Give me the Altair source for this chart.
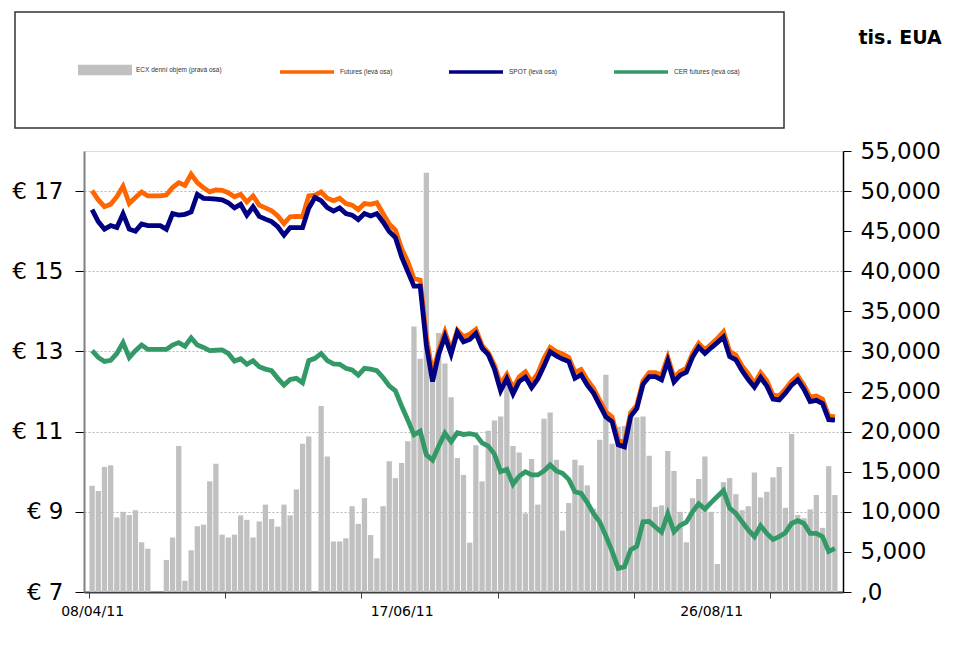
import altair as alt
import pandas as pd

# ---- category axis (trading days) ----
tick_idx = [0, 22, 44, 66, 88, 110]
label_idx = [0, 50, 100]
label_txt = ["08/04/11", "17/06/11", "26/08/11"]

SERIES = ["ECX denní objem (pravá osa)", "Futures (levá osa)", "SPOT (levá osa)", "CER futures (levá osa)"]
COLORS = ["#c0c0c0", "#ff6600", "#000080", "#339966"]

left_ticks = [7, 9, 11, 13, 15, 17]
right_ticks = [0, 5000, 10000, 15000, 20000, 25000, 30000, 35000, 40000, 45000, 50000, 55000]

# ---- ECX daily volume (right axis, tis. EUA) ----
volume = [
    13250, 12600, 15600, 15800, 9300, 10000, 9600, 10200, 6200, 5400,
    None, None, 4000, 6800, 18200, 1400, 5200, 8200, 8400, 13800,
    16000, 7150, 6800, 7150, 9560, 9000, 6800, 8800, 10900, 9100,
    8150, 10900, 9560, 12800, 18500, 19400, None, 23200, 16900, 6300,
    6300, 6700, 10700, 8500, 11700, 7100, 4200, 10700, 16300, 14200,
    16100, 18800, 33100, 29100, 52300, 26500, 32300, 28500, 24300, 16700,
    14600, 6150, 18300, 13800, 20100, 21400, 21900, 26400, 18200, 17400,
    9800, 16600, 10900, 21600, 22400, 16500, 7650, 11100, 16500, 15800,
    13300, 10400, 19000, 27100, 18500, 20600, 20700, 22500, 21800, 21900,
    17000, 10600, 10800, 17600, 15100, 10000, 6200, 11700, 14100, 16900,
    10000, 3500, 13700, 14200, 12200, 10200, 10700, 14900, 11800, 12500,
    14300, 15600, 10500, 19700, 9600, 9200, 10300, 12100, 8000, 15700,
    12100,
]

# ---- prices (left axis, EUR) ----
futures = [
    17.01, 16.78, 16.61, 16.67, 16.86, 17.12, 16.69, 16.84, 16.98, 16.88,
    16.88, 16.88, 16.90, 17.09, 17.21, 17.14, 17.42, 17.21, 17.08, 16.98,
    17.03, 17.02, 16.96, 16.86, 16.92, 16.73, 16.88, 16.65, 16.58, 16.51,
    16.38, 16.19, 16.36, 16.37, 16.36, 16.88, 16.90, 16.98, 16.82, 16.76,
    16.82, 16.69, 16.65, 16.54, 16.69, 16.67, 16.71, 16.44, 16.18, 16.03,
    15.57, 15.24, 14.82, 14.78, 13.37, 12.45, 13.03, 13.49, 13.03, 13.53,
    13.37, 13.43, 13.55, 13.15, 12.97, 12.66, 12.18, 12.43, 12.08, 12.37,
    12.49, 12.24, 12.45, 12.83, 13.10, 13.00, 12.94, 12.85, 12.48, 12.55,
    12.29, 12.08, 11.78, 11.49, 11.37, 10.79, 10.72, 11.47, 11.66, 12.27,
    12.47, 12.47, 12.41, 12.86, 12.35, 12.50, 12.58, 12.95, 13.20, 13.04,
    13.18, 13.32, 13.49, 13.00, 12.91, 12.64, 12.44, 12.20, 12.47, 12.27,
    11.91, 11.89, 12.06, 12.26, 12.39, 12.16, 11.86, 11.89, 11.81, 11.39,
    11.37,
]
spot = [
    16.54, 16.24, 16.05, 16.14, 16.09, 16.43, 16.05, 16.00, 16.18, 16.14,
    16.14, 16.14, 16.05, 16.44, 16.40, 16.42, 16.48, 16.92, 16.82, 16.81,
    16.80, 16.78, 16.71, 16.58, 16.67, 16.40, 16.61, 16.37, 16.30, 16.24,
    16.11, 15.90, 16.09, 16.09, 16.09, 16.57, 16.84, 16.76, 16.59, 16.50,
    16.58, 16.44, 16.40, 16.29, 16.44, 16.38, 16.44, 16.23, 15.99, 15.84,
    15.36, 14.99, 14.63, 14.63, 13.16, 12.25, 12.94, 13.38, 12.93, 13.48,
    13.24, 13.30, 13.45, 13.08, 12.92, 12.56, 12.02, 12.32, 11.94, 12.25,
    12.36, 12.10, 12.31, 12.64, 12.99, 12.89, 12.81, 12.75, 12.33, 12.42,
    12.16, 11.96, 11.66, 11.37, 11.25, 10.67, 10.62, 11.38, 11.58, 12.18,
    12.37, 12.37, 12.29, 12.76, 12.24, 12.41, 12.48, 12.86, 13.11, 12.95,
    13.09, 13.22, 13.36, 12.87, 12.79, 12.52, 12.30, 12.11, 12.35, 12.14,
    11.81, 11.79, 11.96, 12.16, 12.29, 12.06, 11.75, 11.78, 11.70, 11.30,
    11.29,
]
cer = [
    13.02, 12.85, 12.75, 12.78, 12.95, 13.22, 12.85, 13.02, 13.16, 13.05,
    13.05, 13.05, 13.05, 13.16, 13.22, 13.13, 13.34, 13.16, 13.10, 13.02,
    13.03, 13.04, 12.95, 12.76, 12.82, 12.68, 12.77, 12.62, 12.56, 12.52,
    12.33, 12.16, 12.30, 12.33, 12.22, 12.77, 12.83, 12.95, 12.77, 12.69,
    12.68, 12.58, 12.54, 12.41, 12.58, 12.56, 12.52, 12.35, 12.14, 12.02,
    11.64, 11.29, 10.92, 11.01, 10.42, 10.29, 10.64, 10.96, 10.75, 10.97,
    10.93, 10.95, 10.92, 10.72, 10.64, 10.44, 10.00, 10.06, 9.69, 9.89,
    10.00, 9.92, 9.92, 10.02, 10.17, 10.02, 9.96, 9.81, 9.50, 9.46,
    9.23, 8.96, 8.75, 8.40, 8.02, 7.59, 7.63, 8.05, 8.14, 8.75,
    8.76, 8.62, 8.49, 8.95, 8.50, 8.66, 8.74, 9.00, 9.20, 9.07,
    9.23, 9.38, 9.53, 9.09, 8.96, 8.75, 8.55, 8.38, 8.65, 8.46,
    8.31, 8.38, 8.48, 8.71, 8.78, 8.71, 8.46, 8.46, 8.38, 8.01,
    8.09,
]

n = len(spot)
pos = [i + 0.5 for i in range(n)]

bars_df = pd.DataFrame({"pos": pos, "volume": volume, "name": [SERIES[0]] * n})
lines_df = pd.DataFrame({
    "pos": pos * 3,
    "value": futures + spot + cer,
    "series": [SERIES[1]] * n + [SERIES[2]] * n + [SERIES[3]] * n,
})

FONT = "DejaVu Sans"

label_vals = [i + 0.5 for i in label_idx]
label_expr = ""
for v, t in zip(label_vals, label_txt):
    label_expr += f"datum.value === {v} ? '{t}' : "
label_expr += "''"

x_axis = alt.Axis(
    values=sorted(tick_idx + label_vals),
    labelExpr=label_expr,
    tickOpacity={"condition": {"test": "datum.value % 1 === 0", "value": 1}, "value": 0},
    tickSize=6, tickColor="#404040", domainColor="#404040", domainWidth=2,
    labelFont=FONT, labelFontSize=14, labelColor="#000", labelPadding=6,
    labelOverlap=False, labelFlush=False, labelBound=False, grid=False, title=None,
)
x_enc = alt.X("pos:Q", scale=alt.Scale(domain=[0, n], nice=False, zero=False), axis=x_axis)

LEG_FONT = "Liberation Sans"
bar_legend = alt.Legend(
    orient="none", legendX=-6, legendY=-108, title=None,
    symbolType="M-1,-0.19H1V0.19H-1Z", symbolSize=2916, symbolStrokeWidth=0,
    symbolOffset=0, labelOffset=4, padding=0,
    labelFont=LEG_FONT, labelFontSize=6.5, labelColor="#333",
)
line_legend = alt.Legend(
    orient="none", legendX=194, legendY=-108, direction="horizontal", title=None,
    symbolType="stroke", symbolSize=2916, symbolStrokeWidth=3.5, symbolOffset=0,
    labelOffset=4, columnPadding=49, padding=0,
    labelFont=LEG_FONT, labelFontSize=6.5, labelColor="#333",
)

frame = alt.Chart(pd.DataFrame({"k": [0]})).mark_rect(
    fill="#ffffff", stroke="#333333", strokeWidth=1.5
).encode(x=alt.value(-69), x2=alt.value(700), y=alt.value(-139), y2=alt.value(-23))

bars = alt.Chart(bars_df).mark_bar(size=5.3).encode(
    x=x_enc,
    y=alt.Y("volume:Q", scale=alt.Scale(domain=[0, 55000], nice=False),
            axis=alt.Axis(orient="right", values=right_ticks,
                          labelExpr="datum.value === 0 ? ',0' : format(datum.value, ',')",
                          labelFont=FONT, labelFontSize=23, labelColor="#000", labelPadding=9,
                          tickSize=8, tickColor="#000", domainColor="#000", domainWidth=1.5,
                          grid=False, title="tis. EUA", titleAngle=0, titleAlign="left",
                          titleBaseline="middle", titleX=15, titleY=-114,
                          titleFont=FONT, titleFontSize=19, titleFontWeight="bold",
                          titleColor="#000")),
    fill=alt.Fill("name:N", scale=alt.Scale(domain=[SERIES[0]], range=[COLORS[0]]), legend=bar_legend),
)

stroke = alt.Stroke("series:N", scale=alt.Scale(domain=SERIES[1:], range=COLORS[1:]), legend=line_legend)
y_left = alt.Y("value:Q", scale=alt.Scale(domain=[7, 18], nice=False, zero=False),
               axis=alt.Axis(orient="left", values=left_ticks,
                             labelExpr="'€ ' + datum.value",
                             labelFont=FONT, labelFontSize=23, labelColor="#000", labelPadding=12,
                             tickSize=9, tickColor="#000", domainColor="#808080", domainWidth=2,
                             grid=True, gridColor="#b4b4b4", gridDash=[2, 2], gridWidth=1,
                             title=None))

def line_layer(name):
    return alt.Chart(lines_df).transform_filter(
        alt.datum.series == name
    ).mark_line(strokeWidth=4.8).encode(x=x_enc, y=y_left, stroke=stroke)

lines = alt.layer(line_layer(SERIES[1]), line_layer(SERIES[2]), line_layer(SERIES[3]))

chart = alt.layer(frame, bars, lines).resolve_scale(y="independent").properties(
    width=759, height=441,
    autosize=alt.AutoSizeParams(type="none"),
    padding={"left": 76, "top": 143, "right": 106, "bottom": 48},
).configure_view(stroke=None).configure(background="#ffffff")

chart.save("out.html", embed_options={"renderer": "svg", "actions": False})
